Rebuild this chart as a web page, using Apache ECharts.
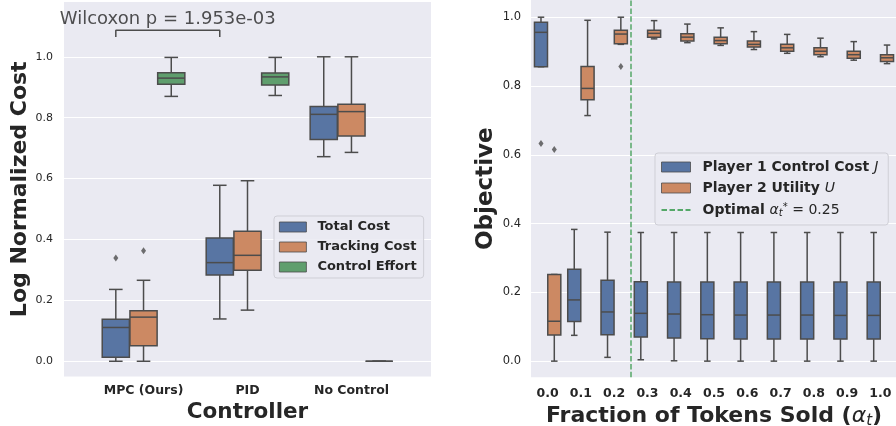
<!DOCTYPE html>
<html><head><meta charset="utf-8">
<script src="https://cdn.jsdelivr.net/npm/echarts@6/dist/echarts.min.js"></script>
<style>html,body{margin:0;padding:0;background:#fff}#c{width:896px;height:426px}</style>
</head><body><div id="c"></div>
<script>
// ---------- Left panel data ----------
const controllers = ['MPC (Ours)', 'PID', 'No Control'];
const costNames = ['Total Cost', 'Tracking Cost', 'Control Effort'];
// each entry: [min, q1, median, q3, max]
const totalCost = [[0.000, 0.013, 0.111, 0.138, 0.236], [0.139, 0.283, 0.324, 0.405, 0.578], [0.672, 0.728, 0.811, 0.837, 1.000]];
const trackingCost = [[0.000, 0.051, 0.145, 0.166, 0.266], [0.168, 0.299, 0.348, 0.427, 0.593], [0.686, 0.740, 0.820, 0.844, 1.000]];
const controlEffort = [[0.870, 0.910, 0.930, 0.948, 0.998], [0.873, 0.907, 0.934, 0.947, 0.998], [0.000, 0.000, 0.000, 0.000, 0.000]];
const totalCostOutliers = [[0, 0.339]];
const trackingCostOutliers = [[0, 0.363]];
const wilcoxonText = 'Wilcoxon p = 1.953e-03';
const bracketLevel = 1.087;
const bracketTick = 0.022;
const leftYTicks = [0, 0.2, 0.4, 0.6, 0.8, 1.0];

// ---------- Right panel data ----------
const alphaLabels = ['0.0', '0.1', '0.2', '0.3', '0.4', '0.5', '0.6', '0.7', '0.8', '0.9', '1.0'];
const player1Cost = [
  [0.856, 0.856, 0.956, 0.985, 1.000],
  [0.075, 0.115, 0.178, 0.267, 0.383],
  [0.011, 0.077, 0.143, 0.235, 0.375],
  [0.004, 0.070, 0.139, 0.231, 0.374],
  [0.001, 0.067, 0.137, 0.230, 0.374],
  [0.000, 0.065, 0.135, 0.230, 0.374],
  [0.000, 0.064, 0.134, 0.230, 0.374],
  [0.000, 0.064, 0.134, 0.230, 0.374],
  [0.000, 0.064, 0.134, 0.230, 0.374],
  [0.000, 0.064, 0.133, 0.230, 0.374],
  [0.000, 0.064, 0.133, 0.230, 0.374]
];
const player2Utility = [
  [0.000, 0.076, 0.116, 0.252, 0.252],
  [0.714, 0.760, 0.793, 0.857, 0.991],
  [0.921, 0.923, 0.951, 0.962, 1.000],
  [0.937, 0.942, 0.953, 0.962, 0.990],
  [0.926, 0.931, 0.942, 0.952, 0.980],
  [0.918, 0.923, 0.932, 0.942, 0.969],
  [0.906, 0.913, 0.921, 0.931, 0.958],
  [0.895, 0.901, 0.911, 0.921, 0.950],
  [0.885, 0.891, 0.901, 0.911, 0.939],
  [0.875, 0.881, 0.891, 0.901, 0.929],
  [0.865, 0.871, 0.882, 0.891, 0.919]
];
const player1Outliers = [[0, 0.633]];
const player2Outliers = [[0, 0.615], [2, 0.857]];
const optimalAlpha = 0.25;
const alphaStep = 0.1;
const rightYTicks = [0, 0.2, 0.4, 0.6, 0.8, 1.0];

// ---------- styling ----------
const F = 'DejaVu Sans';
const TXT = '#262626';
const EDGE = '#4c4c4c';
const BLUE = '#5875A3', ORANGE = '#CC8963', GREEN = '#5F9E6D', DASH = '#55A868';
const BG = '#EAEAF2';

function boxRender(boxW, color) {
  return function (params, api) {
    const x = api.value(0);
    const mn = api.value(1), q1 = api.value(2), md = api.value(3), q3 = api.value(4), mx = api.value(5);
    const pL = api.coord([x - boxW / 2, q3]);
    const pR = api.coord([x + boxW / 2, q1]);
    const cx = api.coord([x, md])[0];
    const yMed = api.coord([x, md])[1];
    const yMin = api.coord([x, mn])[1];
    const yMax = api.coord([x, mx])[1];
    const yQ3 = pL[1], yQ1 = pR[1];
    const cap = (pR[0] - pL[0]) / 4;
    const ls = { stroke: EDGE, lineWidth: 1.5 };
    return {
      type: 'group', children: [
        { type: 'line', shape: { x1: cx, y1: yMax, x2: cx, y2: yQ3 }, style: ls },
        { type: 'line', shape: { x1: cx, y1: yQ1, x2: cx, y2: yMin }, style: ls },
        { type: 'line', shape: { x1: cx - cap, y1: yMax, x2: cx + cap, y2: yMax }, style: ls },
        { type: 'line', shape: { x1: cx - cap, y1: yMin, x2: cx + cap, y2: yMin }, style: ls },
        { type: 'rect', shape: { x: pL[0], y: yQ3, width: pR[0] - pL[0], height: yQ1 - yQ3 }, style: { fill: color, stroke: EDGE, lineWidth: 1.5 } },
        { type: 'line', shape: { x1: pL[0], y1: yMed, x2: pR[0], y2: yMed }, style: ls }
      ]
    };
  };
}

function boxData(stats, offset) {
  return stats.map((s, i) => [i + offset].concat(s));
}
function outlierData(list, offset) {
  return list.map(p => [p[0] + offset, p[1]]);
}

// hue layout (seaborn style dodge)
const leftW = 0.8 / 3, rightW = 0.8 / 2;
const leftOff = [-leftW, 0, leftW];
const rightOff = [-rightW / 2, rightW / 2];
const leftBoxW = leftW * 0.98, rightBoxW = rightW * 0.98;

function boxSeries(name, stats, off, boxW, color, axisIdx) {
  return {
    name: name, type: 'custom', xAxisIndex: axisIdx, yAxisIndex: axisIdx,
    renderItem: boxRender(boxW, color), itemStyle: { color: color },
    encode: { x: 0, y: [1, 2, 3, 4, 5] },
    data: boxData(stats, off), silent: true, z: 3
  };
}
function fliers(list, off, axisIdx) {
  return {
    type: 'scatter', xAxisIndex: axisIdx, yAxisIndex: axisIdx, symbol: 'diamond', symbolSize: [5, 7],
    itemStyle: { color: EDGE }, data: outlierData(list, off), silent: true, z: 4
  };
}

const bx1 = 0 + leftOff[0], bx2 = 1 + leftOff[0];

const option = {
  backgroundColor: '#ffffff',
  animation: false,
  grid: [
    { left: 64, top: 2, width: 367, height: 374.5, show: true, backgroundColor: BG, borderWidth: 0, containLabel: false, outerBoundsMode: 'none' },
    { left: 531, top: 0, width: 366, height: 377.3, show: true, backgroundColor: BG, borderWidth: 0, containLabel: false, outerBoundsMode: 'none' }
  ],
  xAxis: [
    {
      type: 'value', gridIndex: 0, min: -0.765, max: 2.765,
      axisLine: { show: false }, axisTick: { show: false, customValues: [0, 1, 2] }, splitLine: { show: false },
      axisLabel: { customValues: [0, 1, 2], formatter: v => controllers[Math.round(v)], fontFamily: F, fontWeight: 'bold', fontSize: 12.5, color: TXT, margin: 7.5 },
      name: 'Controller', nameLocation: 'middle', nameGap: 22,
      nameTextStyle: { fontFamily: F, fontWeight: 'bold', fontSize: 21.5, color: TXT }
    },
    {
      type: 'value', gridIndex: 1, min: -0.5, max: 10.5,
      axisLine: { show: false }, axisTick: { show: false, customValues: alphaLabels.map((_, i) => i) }, splitLine: { show: false },
      axisLabel: { customValues: alphaLabels.map((_, i) => i), formatter: v => alphaLabels[Math.round(v)], fontFamily: F, fontWeight: 'bold', fontSize: 12.5, color: TXT, margin: 10 },
      name: '{b|Fraction of Tokens Sold (}{i|α}{s|t}{b|)}', nameLocation: 'middle', nameGap: 24,
      nameTextStyle: {
        rich: {
          b: { fontFamily: F, fontWeight: 'bold', fontSize: 22, color: TXT, lineHeight: 24 },
          i: { fontFamily: F, fontStyle: 'italic', fontSize: 22, color: TXT, lineHeight: 24 },
          s: { fontFamily: F, fontStyle: 'italic', fontSize: 15, color: TXT, lineHeight: 14, verticalAlign: 'bottom' }
        }
      }
    }
  ],
  yAxis: [
    {
      type: 'value', gridIndex: 0, min: -0.05, max: 1.18,
      axisLine: { show: false }, axisTick: { show: false, customValues: leftYTicks },
      splitLine: { show: true, lineStyle: { color: '#ffffff', width: 1.2 } },
      axisLabel: { customValues: leftYTicks, formatter: v => v.toFixed(1), fontFamily: F, fontSize: 11, color: TXT, margin: 11 },
      name: 'Log Normalized Cost', nameLocation: 'middle', nameGap: 25,
      nameTextStyle: { fontFamily: F, fontWeight: 'bold', fontSize: 22, color: TXT }
    },
    {
      type: 'value', gridIndex: 1, min: -0.047, max: 1.05,
      axisLine: { show: false }, axisTick: { show: false, customValues: rightYTicks },
      splitLine: { show: true, lineStyle: { color: '#ffffff', width: 1.2 } },
      axisLabel: { customValues: rightYTicks, formatter: v => v.toFixed(1), fontFamily: F, fontSize: 11.5, color: TXT, margin: 10 },
      name: 'Objective', nameLocation: 'middle', nameGap: 33,
      nameTextStyle: { fontFamily: F, fontWeight: 'bold', fontSize: 23, color: TXT }
    }
  ],
  legend: [
    {
      data: costNames, orient: 'vertical', left: 274, top: 216, icon: 'rect',
      itemWidth: 27, itemHeight: 10, itemGap: 5, padding: [3.5, 7, 3.5, 5],
      backgroundColor: 'rgba(234,234,242,0.85)', borderColor: '#cfcfd6', borderWidth: 1, borderRadius: 3,
      itemStyle: { borderColor: EDGE, borderWidth: 0.8 },
      textStyle: { fontFamily: F, fontWeight: 'bold', fontSize: 13, color: TXT, lineHeight: 15, padding: [0, 0, 0, 6] },
      selectedMode: false
    },
    {
      data: [
        { name: 'P1', icon: 'rect' },
        { name: 'P2', icon: 'rect' },
        { name: 'OPT', itemStyle: { color: 'rgba(0,0,0,0)', borderColor: 'rgba(0,0,0,0)', borderWidth: 0, opacity: 0 } }
      ],
      orient: 'vertical', left: 655, top: 153,
      itemWidth: 29, itemHeight: 10, itemGap: 7, padding: [7, 10, 7, 5.5],
      backgroundColor: 'rgba(234,234,242,0.85)', borderColor: '#cfcfd6', borderWidth: 1, borderRadius: 3,
      itemStyle: { borderColor: EDGE, borderWidth: 0.8 },
      formatter: function (n) {
        if (n === 'P1') return '{b|Player 1 Control Cost }{i|J}';
        if (n === 'P2') return '{b|Player 2 Utility }{i|U}';
        return '{b|Optimal }{i|α}{sub|t}{sup|*}{m| = 0.25}';
      },
      textStyle: {
        padding: [0, 0, 0, 7],
        rich: {
          b: { fontFamily: F, fontWeight: 'bold', fontSize: 14, color: TXT, lineHeight: 16 },
          i: { fontFamily: F, fontStyle: 'italic', fontSize: 14, color: TXT, lineHeight: 16 },
          m: { fontFamily: F, fontSize: 14, color: TXT, lineHeight: 16 },
          sub: { fontFamily: F, fontStyle: 'italic', fontSize: 10, color: TXT, lineHeight: 10, verticalAlign: 'bottom' },
          sup: { fontFamily: F, fontSize: 10, color: TXT, lineHeight: 10, verticalAlign: 'top' }
        }
      },
      selectedMode: false
    }
  ],
  series: [
    boxSeries('Total Cost', totalCost, leftOff[0], leftBoxW, BLUE, 0),
    boxSeries('Tracking Cost', trackingCost, leftOff[1], leftBoxW, ORANGE, 0),
    boxSeries('Control Effort', controlEffort, leftOff[2], leftBoxW, GREEN, 0),
    fliers(totalCostOutliers, leftOff[0], 0),
    fliers(trackingCostOutliers, leftOff[1], 0),
    {
      type: 'line', xAxisIndex: 0, yAxisIndex: 0, symbol: 'none', silent: true, z: 5,
      lineStyle: { color: EDGE, width: 1.5 },
      data: [[bx1, bracketLevel - bracketTick], [bx1, bracketLevel], [bx2, bracketLevel], [bx2, bracketLevel - bracketTick]]
    },
    {
      type: 'scatter', xAxisIndex: 0, yAxisIndex: 0, symbolSize: 0, silent: true,
      data: [[(bx1 + bx2) / 2, bracketLevel]],
      label: { show: true, position: 'top', distance: 2, formatter: wilcoxonText, fontFamily: F, fontSize: 18, color: TXT }
    },
    boxSeries('P1', player1Cost, rightOff[0], rightBoxW, BLUE, 1),
    boxSeries('P2', player2Utility, rightOff[1], rightBoxW, ORANGE, 1),
    fliers(player1Outliers, rightOff[0], 1),
    fliers(player2Outliers, rightOff[1], 1),
    {
      name: 'OPT', type: 'line', xAxisIndex: 1, yAxisIndex: 1, symbol: 'none', silent: true, z: 6,
      itemStyle: { color: DASH },
      lineStyle: { color: DASH, width: 1.6, type: [5.5, 2.5] },
      data: [],
      markLine: {
        silent: true, symbol: 'none', label: { show: false },
        lineStyle: { color: DASH, width: 1.5, type: [5.5, 2.4] },
        data: [{ xAxis: optimalAlpha / alphaStep }]
      }
    }
  ]
};

const chart = echarts.init(document.getElementById('c'));
chart.setOption(option);
</script>
</body></html>
